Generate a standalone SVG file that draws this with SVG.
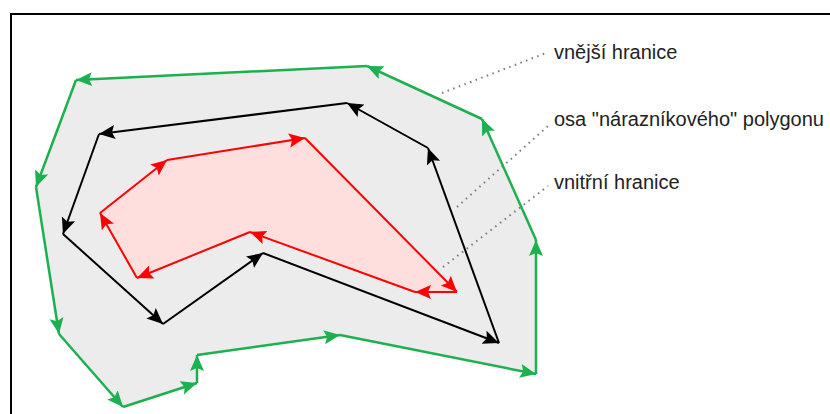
<svg xmlns="http://www.w3.org/2000/svg" width="830" height="414" viewBox="0 0 830 414">
<style>
.g{stroke:#1db04f;stroke-width:2.5;fill:none;marker-end:url(#mg)}
.k{stroke:#000;stroke-width:2;fill:none;marker-end:url(#mk)}
.r{stroke:#ff0000;stroke-width:2;fill:none;marker-end:url(#mr)}
.dot{stroke:#7a7a7a;stroke-width:2;stroke-dasharray:1.5 4.5;fill:none}
.lbl{font-family:"Liberation Sans",Arial,sans-serif;font-size:20px;fill:#222}
</style>
<defs>
<marker id="mg" markerUnits="userSpaceOnUse" markerWidth="18" markerHeight="16" refX="16" refY="8" orient="auto"><path d="M0,1 L16,8 L0,15 L3,8 Z" fill="#1db04f"/></marker>
<marker id="mk" markerUnits="userSpaceOnUse" markerWidth="18" markerHeight="16" refX="16" refY="8" orient="auto"><path d="M0,1 L16,8 L0,15 L3,8 Z" fill="#000"/></marker>
<marker id="mr" markerUnits="userSpaceOnUse" markerWidth="18" markerHeight="16" refX="16" refY="8" orient="auto"><path d="M0,1 L16,8 L0,15 L3,8 Z" fill="#ff0000"/></marker>
</defs>
<rect x="0" y="0" width="830" height="414" fill="#fff"/>
<rect x="11" y="14" width="830" height="410" fill="none" stroke="#000" stroke-width="2"/>
<g id="outer-boundary">
<polygon points="76,80 36,187 59,334 123,407 197,383 197,355 340,335 536,374 536,240 482,119 367,66" fill="#ececec"/>
<line class="g" x1="367" y1="66" x2="76" y2="80"/>
<line class="g" x1="76" y1="80" x2="36" y2="187"/>
<line class="g" x1="36" y1="187" x2="59" y2="334"/>
<line class="g" x1="59" y1="334" x2="123" y2="407"/>
<line class="g" x1="123" y1="407" x2="197" y2="383"/>
<line class="g" x1="197" y1="383" x2="197" y2="355"/>
<line class="g" x1="197" y1="355" x2="340" y2="335"/>
<line class="g" x1="340" y1="335" x2="536" y2="374"/>
<line class="g" x1="536" y1="374" x2="536" y2="240"/>
<line class="g" x1="536" y1="240" x2="482" y2="119"/>
<line class="g" x1="482" y1="119" x2="367" y2="66"/>
</g>
<g id="inner-boundary">
<polygon points="100,213 167,160 305,138 457,292 415,292 250,232 137,278" fill="#ffdede"/>
<line class="r" x1="137" y1="278" x2="100" y2="213"/>
<line class="r" x1="100" y1="213" x2="167" y2="160"/>
<line class="r" x1="167" y1="160" x2="305" y2="138"/>
<line class="r" x1="305" y1="138" x2="457" y2="292"/>
<line class="r" x1="457" y1="292" x2="415" y2="292"/>
<line class="r" x1="415" y1="292" x2="250" y2="232"/>
<line class="r" x1="250" y1="232" x2="137" y2="278"/>
</g>
<g id="buffer-axis">
<line class="k" x1="347" y1="103" x2="99" y2="134"/>
<line class="k" x1="99" y1="134" x2="63" y2="234"/>
<line class="k" x1="63" y1="234" x2="163" y2="324"/>
<line class="k" x1="163" y1="324" x2="263" y2="253"/>
<line class="k" x1="263" y1="253" x2="499" y2="343"/>
<line class="k" x1="499" y1="343" x2="428" y2="148"/>
<line class="k" x1="428" y1="148" x2="347" y2="103"/>
</g>
<g id="connectors">
<line class="dot" x1="442" y1="93" x2="546" y2="53"/>
<line class="dot" x1="457" y1="207" x2="548" y2="126"/>
<line class="dot" x1="443" y1="267" x2="548" y2="186"/>
</g>
<g id="label-outer"><text class="lbl" x="554" y="59">vnější hranice</text></g>
<g id="label-axis"><text class="lbl" x="554" y="126">osa "nárazníkového" polygonu</text></g>
<g id="label-inner"><text class="lbl" x="554" y="189">vnitřní hranice</text></g>
</svg>
